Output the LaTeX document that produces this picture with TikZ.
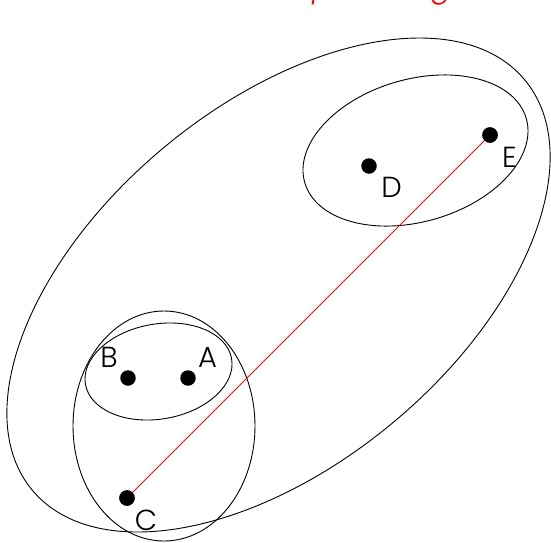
\documentclass[tikz,border=0pt]{standalone}
\usepackage{fontspec}
\setmainfont{Poppins Light}
\begin{document}
\begin{tikzpicture}[x=1pt,y=1pt,
  dot/.style={circle,fill=black,inner sep=0pt,minimum size=15.5pt},
  lbl/.style={inner sep=0pt,font=\fontsize{29}{32}\selectfont},
  set/.style={draw=black,line width=0.9pt}]
\useasboundingbox (0,0) rectangle (551,-542);
\clip (0,0) rectangle (551,-542);
% sets
\draw[set,rotate around={39.8:(278.5,-285)}] (278.5,-285) ellipse [x radius=320.5,y radius=179];
\draw[set,rotate around={16.2:(415.5,-150.5)}] (415.5,-150.5) ellipse [x radius=115.3,y radius=71.2];
\draw[set,rotate around={10:(158.5,-371.5)}] (158.5,-371.5) ellipse [x radius=74.2,y radius=47.5];
\draw[set] (164,-426) ellipse [x radius=91,y radius=115];
% points
\node[dot] (A) at (188,-378) {};
\node[dot] (B) at (128,-378) {};
\node[dot] (C) at (127,-498) {};
\node[dot] (D) at (369,-166) {};
\node[dot] (E) at (490,-135) {};
\draw[red,line width=0.9pt] (C.center) -- (E.center);
\node[dot] at (C) {};
\node[dot] at (E) {};
% labels
\node[lbl] (lA) at (207.5,-357) {A};
\node[lbl] (lB) at (109,-357.5) {B};
\node[lbl] (lC) at (146,-520) {C};
\node[lbl] (lD) at (391.5,-187) {D};
\node[lbl] (lE) at (509.5,-157) {E};
% cropped red title
\node[lbl,red,anchor=base west] (title) at (312,2.5) {\itshape path length};
\end{tikzpicture}
\end{document}
